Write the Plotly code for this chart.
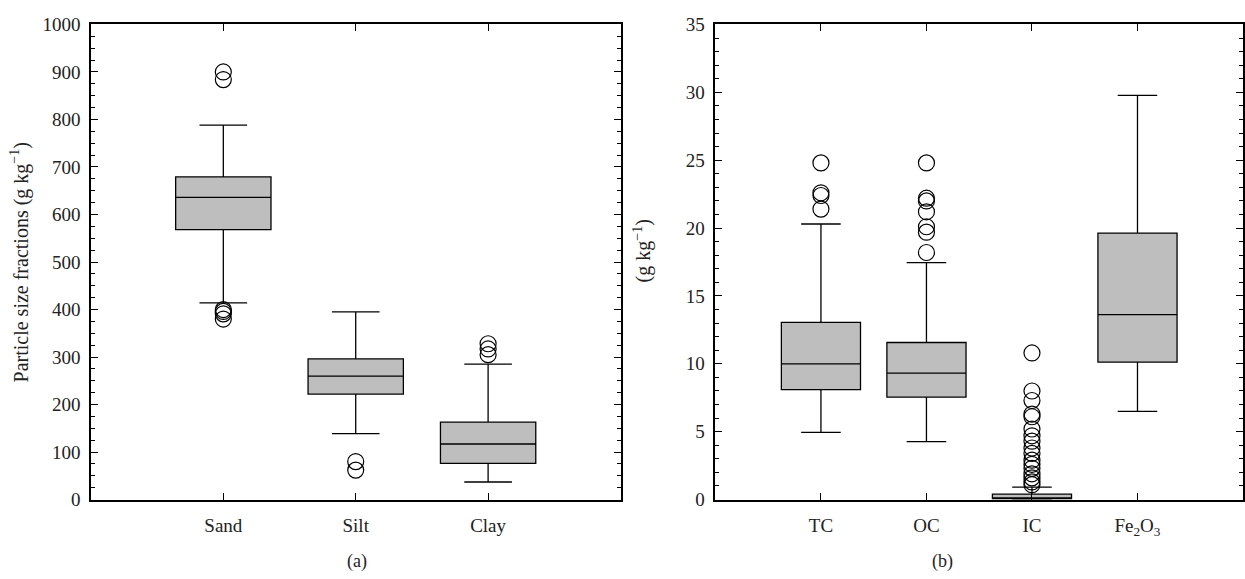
import plotly.graph_objects as go

W, H = 1245, 579

# ---- Panel (a): particle size fractions (g/kg) ----
a_categories = ["Sand", "Silt", "Clay"]
a_q1 = [568, 222, 76]
a_median = [636, 260, 117]
a_q3 = [679, 296, 163]
a_lower = [414, 139, 37]
a_upper = [788, 395, 285]
a_outliers = {
    "Sand": [900, 884, 400, 396, 391, 380],
    "Silt": [80, 62],
    "Clay": [328, 317, 305],
}

# ---- Panel (b): carbon & iron oxide (g/kg) ----
b_categories = ["TC", "OC", "IC", "Fe<sub>2</sub>O<sub>3</sub>"]
b_q1 = [8.1, 7.55, 0.05, 10.13]
b_median = [10.0, 9.32, 0.12, 13.62]
b_q3 = [13.05, 11.57, 0.4, 19.63]
b_lower = [4.95, 4.27, 0.0, 6.5]
b_upper = [20.3, 17.45, 0.92, 29.78]
b_outliers = {
    "TC": [24.8, 22.6, 22.4, 21.4],
    "OC": [24.8, 22.2, 22.0, 21.2, 20.1, 19.7, 18.2],
    "IC": [10.8, 8.0, 7.3, 6.3, 6.1, 5.2, 4.7, 4.3, 3.8, 3.4, 2.9,
           2.6, 2.3, 1.9, 1.6, 1.3, 1.1],
    "Fe<sub>2</sub>O<sub>3</sub>": [],
}

FONT = "Liberation Serif"
BOX_FILL = "#bebebe"
TXT = "#222"

fig = go.Figure()


def add_panel(cats, q1, med, q3, lo, hi, outl, xa, ya, bw):
    for i, c in enumerate(cats):
        fig.add_trace(go.Box(
            x=[i + 1], q1=[q1[i]], median=[med[i]], q3=[q3[i]],
            lowerfence=[lo[i]], upperfence=[hi[i]],
            fillcolor=BOX_FILL, line=dict(color="black", width=1.3),
            width=bw, whiskerwidth=0.5, boxpoints=False,
            xaxis=xa, yaxis=ya, showlegend=False, hoverinfo="skip",
        ))
        pts = outl.get(c, [])
        if pts:
            fig.add_trace(go.Scatter(
                x=[i + 1] * len(pts), y=pts, mode="markers",
                marker=dict(symbol="circle-open", size=16, color="black",
                            line=dict(width=1.2, color="black")),
                xaxis=xa, yaxis=ya, showlegend=False, hoverinfo="skip",
            ))


add_panel(a_categories, a_q1, a_median, a_q3, a_lower, a_upper,
          a_outliers, "x", "y", 0.72)
add_panel(b_categories, b_q1, b_median, b_q3, b_lower, b_upper,
          b_outliers, "x2", "y2", 0.75)

ydom = [1 - 508 / H, 1 - 15 / H]
axis_common = dict(showline=True, linecolor="black", linewidth=1.5,
                   mirror="allticks", ticks="inside", tickcolor="black",
                   tickwidth=1.3, showgrid=False, zeroline=False,
                   tickfont=dict(family=FONT, size=19, color=TXT))

fig.update_layout(
    width=W, height=H, margin=dict(l=0, r=0, t=0, b=0),
    paper_bgcolor="white", plot_bgcolor="white",
    xaxis=dict(domain=[91 / W, 621 / W], range=[0, 4],
               tickvals=[1, 2, 3], ticktext=a_categories, ticklen=7,
               anchor="y", ticklabelstandoff=8, **axis_common),
    yaxis=dict(domain=ydom, range=[0, 1000], dtick=100, ticklen=7,
               anchor="x", ticklabelstandoff=5,
               minor=dict(dtick=25, ticklen=4, ticks="inside",
                          tickcolor="black", tickwidth=1.2),
               **axis_common),
    xaxis2=dict(domain=[716 / W, 1244 / W], range=[0, 5],
                tickvals=[1, 2, 3, 4], ticktext=b_categories, ticklen=7,
                anchor="y2", ticklabelstandoff=8, **axis_common),
    yaxis2=dict(domain=ydom, range=[0, 35], dtick=5, ticklen=7,
                anchor="x2", ticklabelstandoff=5,
                minor=dict(dtick=1, ticklen=4, ticks="inside",
                           tickcolor="black", tickwidth=1.2),
                **axis_common),
    annotations=[
        dict(text="Particle size fractions (g kg<sup>\u22121</sup>)",
             x=20 / W, y=1 - 262 / H, xref="paper", yref="paper",
             xanchor="center", yanchor="middle",
             textangle=-90, showarrow=False,
             font=dict(family=FONT, size=20, color=TXT)),
        dict(text="(g kg<sup>\u22121</sup>)",
             x=643 / W, y=1 - 250 / H, xref="paper", yref="paper",
             xanchor="center", yanchor="middle",
             textangle=-90, showarrow=False,
             font=dict(family=FONT, size=20, color=TXT)),
        dict(text="(a)", x=357 / W, y=1 - 572 / H, xref="paper",
             yref="paper", xanchor="center", yanchor="middle",
             showarrow=False, font=dict(family=FONT, size=18, color=TXT)),
        dict(text="(b)", x=943 / W, y=1 - 572 / H, xref="paper",
             yref="paper", xanchor="center", yanchor="middle",
             showarrow=False, font=dict(family=FONT, size=18, color=TXT)),
    ],
)

fig.write_html("out.html")
